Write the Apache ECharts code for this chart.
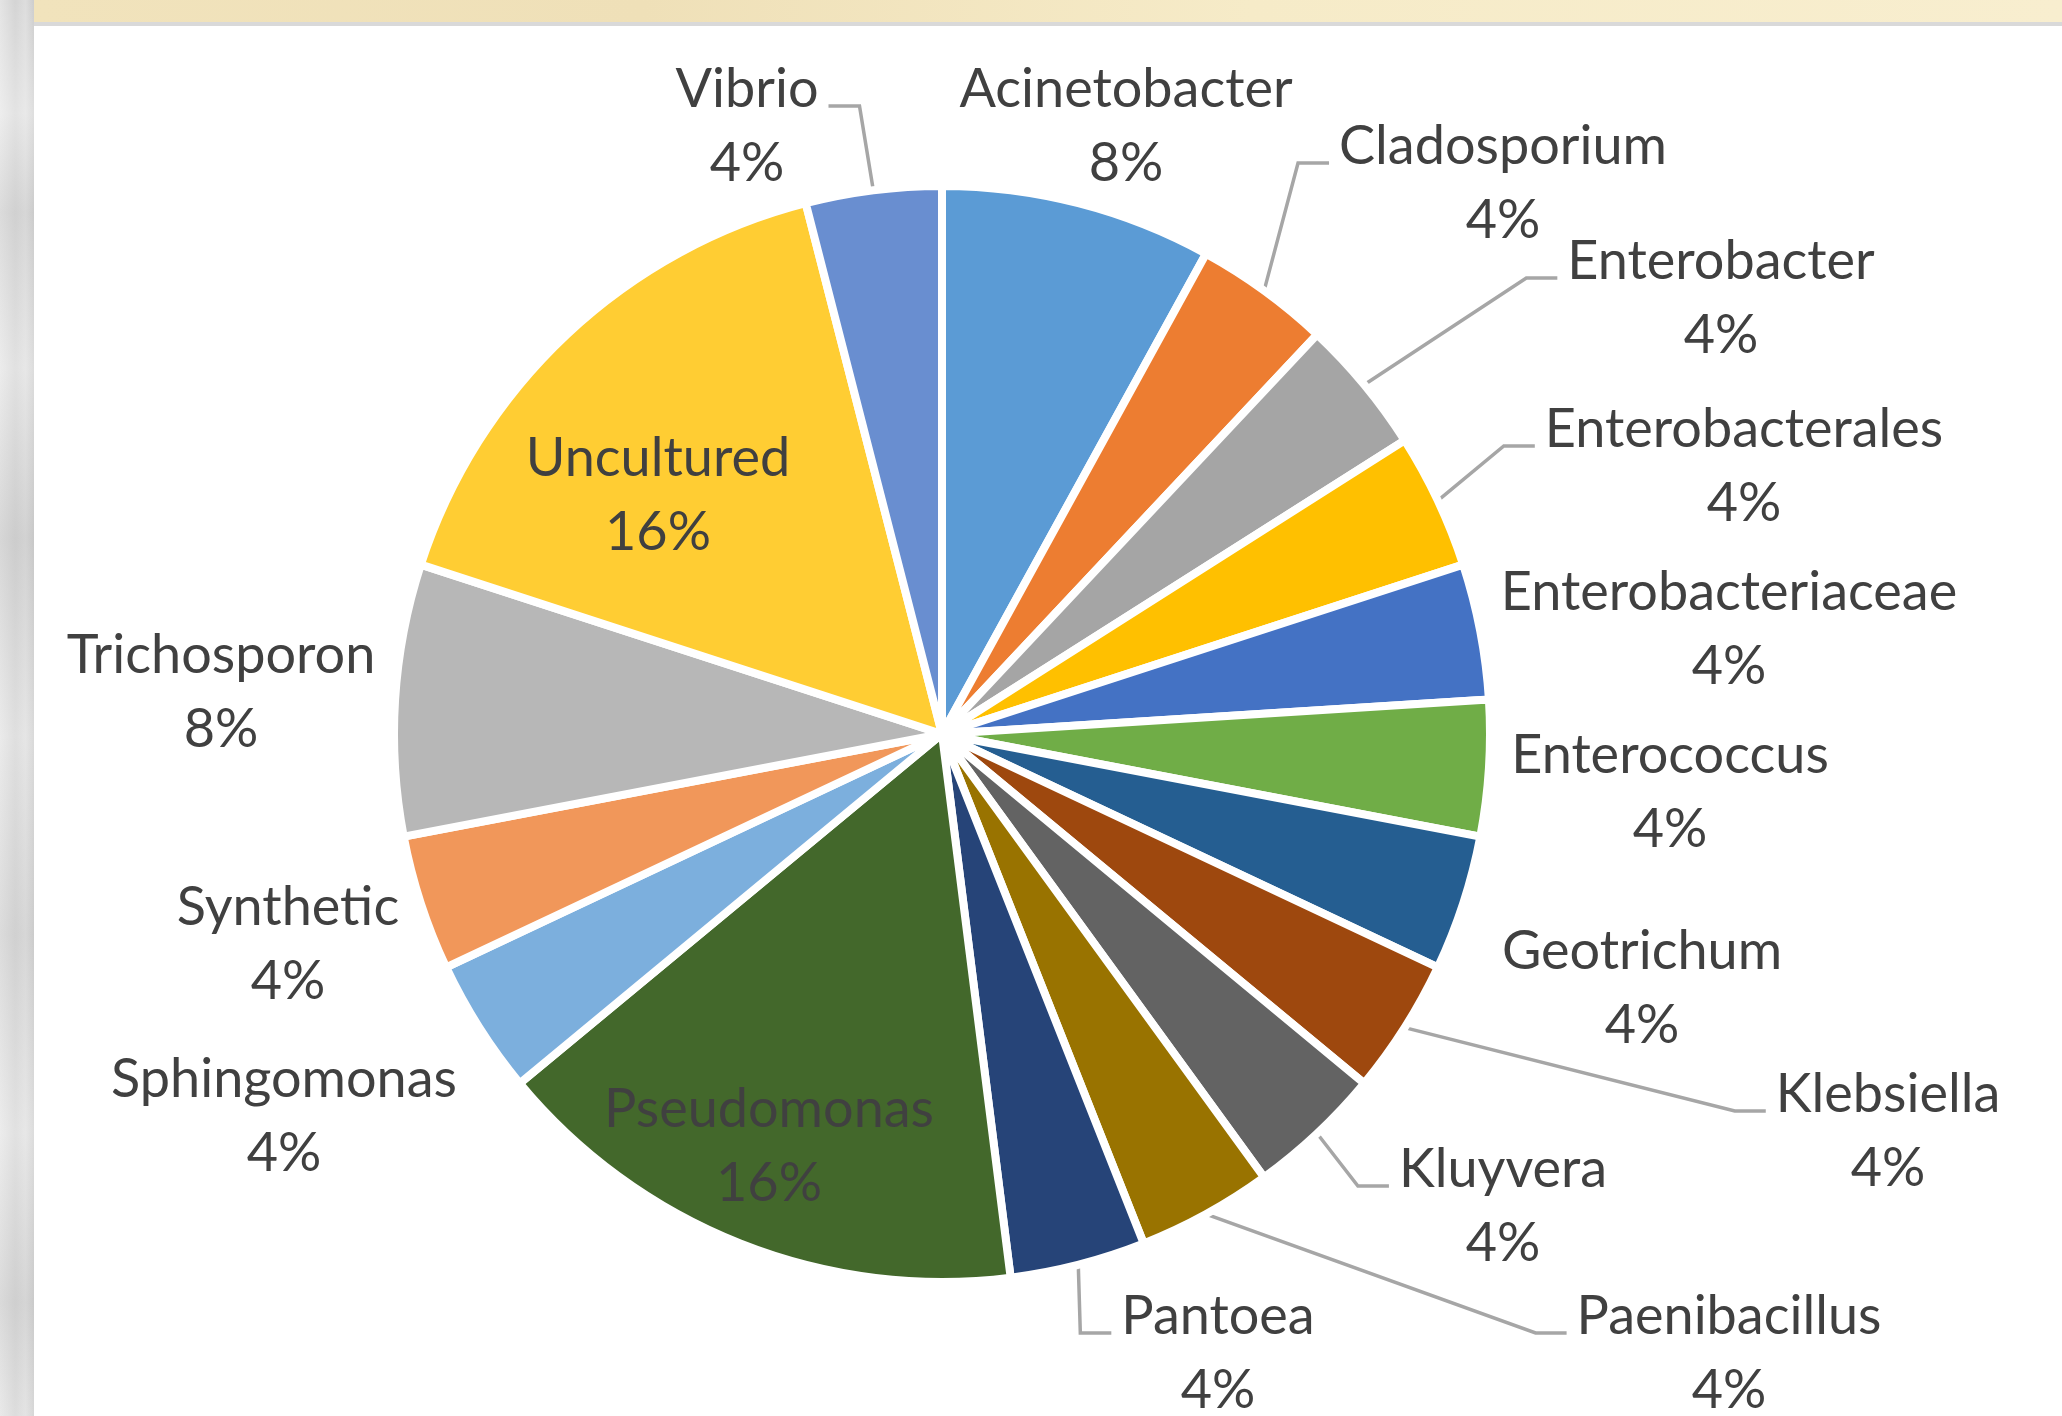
<!DOCTYPE html>
<html>
<head>
<meta charset="utf-8">
<script src="https://cdn.jsdelivr.net/npm/echarts@6/dist/echarts.min.js"></script>
<style>
  html, body { margin: 0; padding: 0; width: 2062px; height: 1416px; overflow: hidden; background: #ffffff; }
  #leftStrip { position: absolute; left: 0; top: 0; width: 34px; height: 1416px;
    background:
      linear-gradient(180deg, rgba(255,255,255,0.0) 0%, rgba(255,255,255,0.35) 8%, rgba(200,200,200,0.3) 15%, rgba(255,255,255,0.3) 26%, rgba(190,190,190,0.35) 38%, rgba(255,255,255,0.25) 52%, rgba(200,200,200,0.3) 66%, rgba(255,255,255,0.3) 80%, rgba(195,195,195,0.3) 92%, rgba(255,255,255,0.2) 100%),
      linear-gradient(90deg, #e4e4e4 0%, #d4d4d4 45%, #dddddd 75%, #cdcdcd 100%); }
  #banner { position: absolute; left: 34px; top: 0; width: 2028px; height: 22px;
    background: linear-gradient(90deg, #f1e3bc 0%, #efe0b8 30%, #f6ebc8 60%, #f8eecf 100%); }
  #bannerLine { position: absolute; left: 34px; top: 22px; width: 2028px; height: 4px; background: #d9d9d9; }
  #chart { position: absolute; left: 0; top: 0; width: 2062px; height: 1416px; }
</style>
</head>
<body>
<div id="leftStrip"></div>
<div id="banner"></div>
<div id="bannerLine"></div>
<div id="chart"></div>
<script>
// ---- data ----
const categories = ['Acinetobacter', 'Cladosporium', 'Enterobacter', 'Enterobacterales', 'Enterobacteriaceae',
  'Enterococcus', 'Geotrichum', 'Klebsiella', 'Kluyvera', 'Paenibacillus', 'Pantoea', 'Pseudomonas',
  'Sphingomonas', 'Synthetic', 'Trichosporon', 'Uncultured', 'Vibrio'];
const counts = [2, 1, 1, 1, 1, 1, 1, 1, 1, 1, 1, 4, 1, 1, 2, 4, 1];

// ---- styles ----
const colors = ['#5B9BD5', '#ED7D31', '#A5A5A5', '#FFC000', '#4472C4', '#70AD47', '#255E91', '#9E480E',
  '#636363', '#997300', '#264478', '#43682B', '#7CAFDD', '#F1975A', '#B7B7B7', '#FFCD33', '#698ED0'];
// label block centres (px) and leader-line side
const labelPos = {
  'Vibrio': [747, 127], 'Acinetobacter': [1126, 127], 'Cladosporium': [1503, 184],
  'Enterobacter': [1721, 299], 'Enterobacterales': [1744, 467], 'Enterobacteriaceae': [1729, 630],
  'Enterococcus': [1670, 793], 'Geotrichum': [1642, 989], 'Klebsiella': [1888, 1132],
  'Kluyvera': [1503, 1207], 'Paenibacillus': [1729, 1354], 'Pantoea': [1218, 1354],
  'Pseudomonas': [769, 1147], 'Sphingomonas': [284, 1117], 'Synthetic': [288, 945],
  'Trichosporon': [221, 693], 'Uncultured': [658, 496]
};
const leaderSide = {
  'Vibrio': 'left', 'Cladosporium': 'right', 'Enterobacter': 'right', 'Enterobacterales': 'right',
  'Klebsiella': 'right', 'Kluyvera': 'right', 'Paenibacillus': 'right', 'Pantoea': 'right'
};

const chart = echarts.init(document.getElementById('chart'), null, { renderer: 'canvas' });
const data = categories.map((c, i) => ({
  name: c, value: counts[i],
  itemStyle: { color: colors[i] },
  labelLine: { show: !!leaderSide[c] }
}));

chart.setOption({
  animation: false,
  backgroundColor: 'transparent',
  series: [{
    type: 'pie',
    center: [942, 734],
    radius: [0, 548],
    startAngle: 90,
    clockwise: true,
    percentPrecision: 0,
    data: data,
    itemStyle: { borderColor: '#ffffff', borderWidth: 8 },
    label: {
      show: true,
      position: 'outside',
      formatter: '{b}\n{d}%',
      fontFamily: 'Lato',
      fontSize: 54,
      lineHeight: 74,
      color: '#404040',
      align: 'center'
    },
    labelLine: { show: true, smooth: false, length: 20, length2: 30,
      lineStyle: { color: '#A6A6A6', width: 3.5 } },
    labelLayout: function (params) {
      const name = categories[params.dataIndex];
      const p = labelPos[name];
      const w = params.labelRect.width;
      const out = { x: p[0], y: p[1], align: 'center', verticalAlign: 'middle' };
      const side = leaderSide[name];
      if (side && params.labelLinePoints) {
        const start = params.labelLinePoints[0];
        const ay = p[1] - 21;
        let endX, midX;
        if (side === 'right') { endX = p[0] - w / 2 - 10; midX = endX - 31; }
        else { endX = p[0] + w / 2 + 10; midX = endX + 31; }
        out.labelLinePoints = [start, [midX, ay], [endX, ay]];
      }
      return out;
    }
  }]
});
</script>
</body>
</html>
